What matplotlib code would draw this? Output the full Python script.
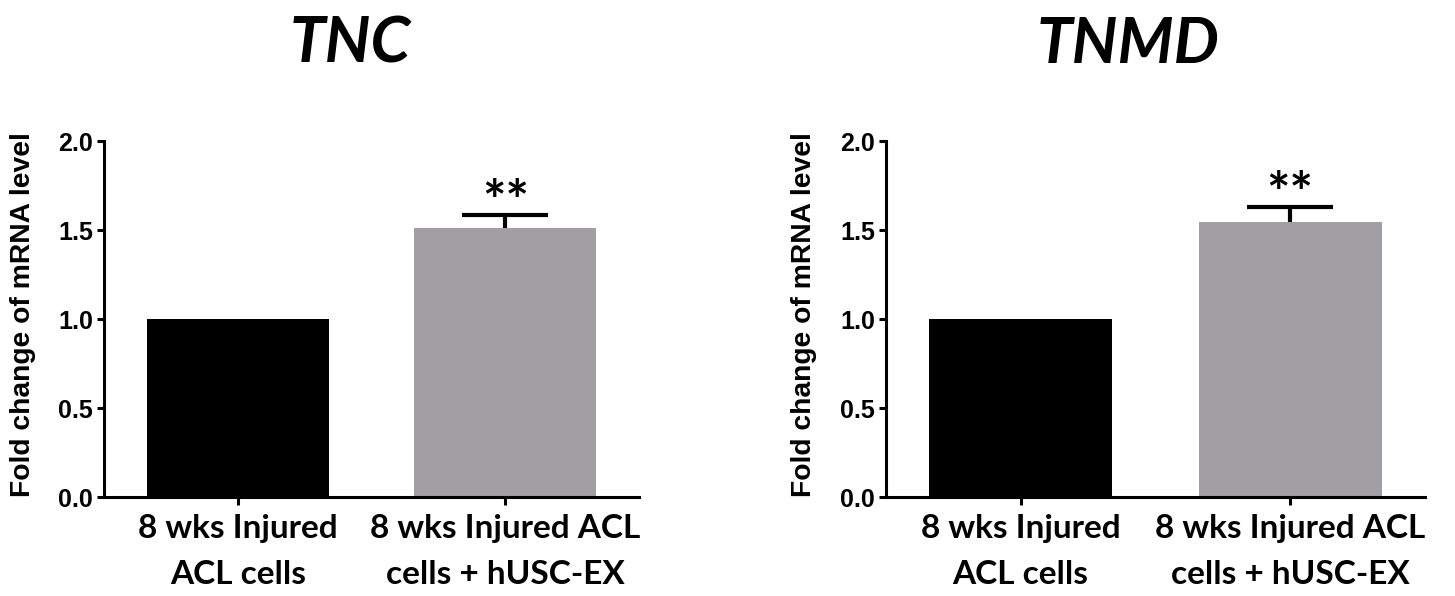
import matplotlib
matplotlib.use("Agg")
import matplotlib.pyplot as plt

genes = ["TNC", "TNMD"]
categories = ["8 wks Injured\nACL cells", "8 wks Injured ACL\ncells + hUSC-EX"]
values = {"TNC": [1.0, 1.51], "TNMD": [1.0, 1.545]}
errors = {"TNC": [0.0, 0.075], "TNMD": [0.0, 0.085]}
signif = {"TNC": "**", "TNMD": "**"}
yticks = [0.0, 0.5, 1.0, 1.5, 2.0]
ylabel = "Fold change of mRNA level"

bar_colors = ["#000000", "#a19fa4"]
label_font = "Lato"
tick_font = "Liberation Sans"

fig = plt.figure(figsize=(14.55, 5.96), dpi=100)
axes_rects = [[0.0715, 0.166, 0.3677, 0.5973], [0.6089, 0.166, 0.3704, 0.5973]]
title_x = [0.46, 0.449]

for i, g in enumerate(genes):
    ax = fig.add_axes(axes_rects[i])
    x = list(range(len(categories)))
    vals = values[g]
    errs = errors[g]
    ax.bar(x, vals, width=0.68, color=bar_colors, edgecolor="none", zorder=2)
    for xi, v, e in zip(x, vals, errs):
        if e > 0:
            cont = ax.errorbar([xi], [v], yerr=[[0], [e]], fmt="none", ecolor="black",
                               elinewidth=3, capsize=31, capthick=3, zorder=3)
            caps = cont.lines[1]
            if len(caps) > 1:
                caps[0].set_visible(False)
            ax.annotate(signif[g], xy=(xi, v + e), xytext=(0, -10),
                        textcoords="offset points", ha="center", va="bottom",
                        fontsize=40, fontweight="bold", family=label_font)
    ax.set_xlim(-0.5, 1.5)
    ax.set_ylim(0, 2.0)
    ax.set_yticks(yticks)
    ax.set_yticklabels([f"{t:.1f}" for t in yticks], fontsize=18,
                       fontweight="bold", family=tick_font)
    ax.set_xticks(x)
    ax.set_xticklabels(categories, fontsize=24, fontweight="bold",
                       family=label_font, linespacing=1.7)
    ax.set_ylabel(ylabel, fontsize=20.3, fontweight="bold", family=tick_font,
                  va="center", ha="center")
    ax.yaxis.set_label_coords(-0.152, 0.512)
    for s in ["top", "right"]:
        ax.spines[s].set_visible(False)
    for s in ["left", "bottom"]:
        ax.spines[s].set_linewidth(2.2)
    ax.tick_params(axis="y", width=2.2, length=5, pad=3)
    ax.tick_params(axis="x", width=2.2, length=6, pad=6)
    ax.text(title_x[i], 1.272, g, transform=ax.transAxes,
            ha="center", va="center", fontsize=46, fontweight="bold",
            fontstyle="italic", family=label_font)

fig.savefig("out.png", dpi=100)
